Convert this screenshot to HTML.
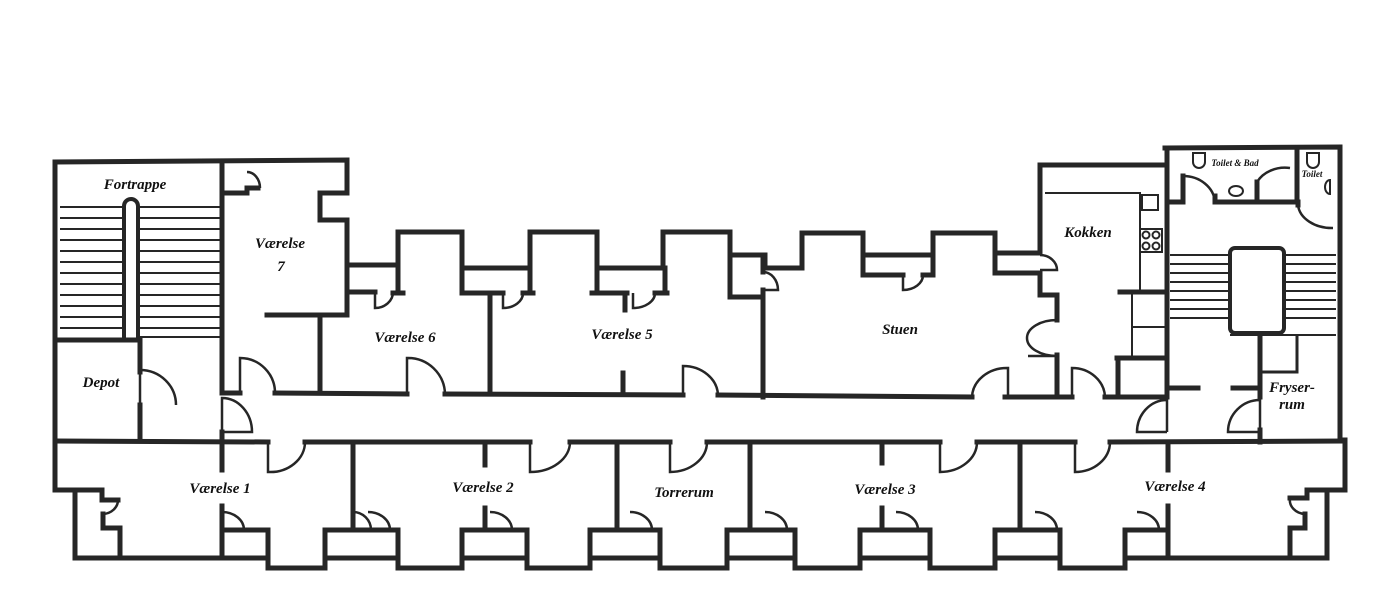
<!DOCTYPE html>
<html><head><meta charset="utf-8"><style>
html,body{margin:0;padding:0;background:#fff;width:1400px;height:600px;overflow:hidden}
svg{display:block}
text{font-family:"Liberation Serif",serif;font-style:italic;font-weight:bold;fill:#111}
</style></head><body>
<svg width="1400" height="600" viewBox="0 0 1400 600" xmlns="http://www.w3.org/2000/svg">
<g fill="none" stroke="#262626" stroke-width="5" stroke-linejoin="miter" stroke-linecap="square">
<!-- outer left/top -->
<polyline points="55,490 55,162 347,160 347,193 320,193 320,220 347,220 347,315 267,315"/>
<line x1="222" y1="163" x2="222" y2="393"/>
<line x1="55" y1="340" x2="140" y2="340"/>
<polyline points="140,340 140,372"/><polyline points="140,405 140,440"/>
<polyline points="222,193 247,193 247,188 258,188"/>
<!-- corridor top -->
<line x1="222" y1="393" x2="240" y2="393"/>
<line x1="275" y1="393" x2="407" y2="394"/>
<line x1="445" y1="394" x2="683" y2="395"/>
<line x1="718" y1="395" x2="972" y2="397"/>
<line x1="1005" y1="397" x2="1072" y2="397"/>
<line x1="1105" y1="397" x2="1167" y2="397"/>
<line x1="222" y1="432" x2="222" y2="441"/>
<line x1="320" y1="315" x2="320" y2="393"/>
<!-- upper jagged -->
<polyline points="347,265 398,265 398,232 462,232 462,268 530,268 530,232 597,232 597,268 663,268 663,232 730,232 730,255 765,255 765,268 802,268 802,233 863,233 863,255 933,255 933,233 995,233 995,253 1040,253"/>
<polyline points="347,265 347,292 375,292"/><line x1="393" y1="293" x2="403" y2="293"/>
<line x1="398" y1="265" x2="398" y2="293"/>
<line x1="462" y1="268" x2="462" y2="293"/><line x1="462" y1="293" x2="503" y2="293"/><line x1="523" y1="293" x2="533" y2="293"/>
<line x1="530" y1="268" x2="530" y2="293"/>
<line x1="490" y1="293" x2="490" y2="393"/>
<line x1="597" y1="268" x2="597" y2="293"/><line x1="592" y1="293" x2="627" y2="293"/><line x1="625" y1="293" x2="625" y2="310"/><line x1="655" y1="293" x2="667" y2="293"/>
<line x1="665" y1="268" x2="665" y2="293"/>
<line x1="623" y1="373" x2="623" y2="393"/>
<polyline points="730,255 730,297 763,297"/>
<line x1="763" y1="290" x2="763" y2="397"/>
<line x1="763" y1="255" x2="763" y2="272"/>
<polyline points="863,255 863,275 903,275"/><polyline points="923,275 933,275 933,255"/>
<polyline points="995,253 995,273 1040,273"/>
<!-- kokken -->
<polyline points="1040,253 1040,165 1165,165"/>
<polyline points="1040,273 1040,295 1057,295 1057,320"/>
<line x1="1057" y1="355" x2="1057" y2="397"/>
<polyline points="1165,148 1340,147 1340,440"/>
<line x1="1167" y1="148" x2="1167" y2="397"/>
<line x1="1120" y1="292" x2="1167" y2="292"/>
<line x1="1117" y1="358" x2="1167" y2="358"/>
<line x1="1118" y1="358" x2="1118" y2="397"/>
<!-- bath -->
<polyline points="1167,202 1183,202 1183,176"/>
<polyline points="1215,196 1215,202 1257,202 1257,182"/>
<polyline points="1257,202 1298,202 1298,205"/>
<line x1="1297" y1="148" x2="1297" y2="202"/>
<!-- frysersum -->
<line x1="1260" y1="335" x2="1260" y2="397"/>
<line x1="1260" y1="430" x2="1260" y2="442"/>
<line x1="1168" y1="388" x2="1198" y2="388"/>
<line x1="1233" y1="388" x2="1260" y2="388"/>
<!-- corridor bottom -->
<line x1="55" y1="441" x2="268" y2="442"/>
<line x1="305" y1="442" x2="530" y2="442"/>
<line x1="570" y1="442" x2="670" y2="442"/>
<line x1="707" y1="442" x2="940" y2="442"/>
<line x1="977" y1="442" x2="1075" y2="442"/>
<line x1="1110" y1="442" x2="1345" y2="441"/>
<!-- room partitions -->
<line x1="353" y1="442" x2="353" y2="530"/>
<line x1="617" y1="442" x2="617" y2="530"/>
<line x1="750" y1="442" x2="750" y2="530"/>
<line x1="1020" y1="442" x2="1020" y2="530"/>
<line x1="222" y1="442" x2="222" y2="470"/>
<line x1="485" y1="442" x2="485" y2="465"/>
<line x1="882" y1="442" x2="882" y2="463"/>
<line x1="1168" y1="442" x2="1168" y2="470"/>
<line x1="222" y1="506" x2="222" y2="558"/>
<line x1="485" y1="508" x2="485" y2="530"/>
<line x1="882" y1="508" x2="882" y2="530"/>
<line x1="1168" y1="506" x2="1168" y2="558"/>
<!-- bottom outer -->
<polyline points="55,490 102,490 102,500 118,500"/>
<polyline points="75,490 75,558 268,558 268,568 325,568 325,558 398,558 398,568 462,568 462,558 527,558 527,568 590,568 590,558 660,558 660,568 727,568 727,558 795,558 795,568 860,568 860,558 930,558 930,568 995,568 995,558 1060,558 1060,568 1125,568 1125,558 1327,558 1327,490 1345,490 1345,440"/>
<polyline points="103,514 103,528 120,528 120,558"/>
<polyline points="1327,490 1307,490 1307,498 1290,498"/>
<polyline points="1305,514 1305,528 1290,528 1290,558"/>
<!-- piers -->
<polyline points="222,530 268,530 268,568"/>
<polyline points="325,568 325,530 398,530 398,568"/>
<polyline points="462,568 462,530 527,530 527,568"/>
<polyline points="590,568 590,530 660,530 660,568"/>
<polyline points="727,568 727,530 795,530 795,568"/>
<polyline points="860,568 860,530 930,530 930,568"/>
<polyline points="995,568 995,530 1060,530 1060,568"/>
<polyline points="1125,568 1125,530 1168,530"/>
</g>
<g fill="none" stroke="#262626" stroke-width="2.5">
<!-- door arcs -->
<path d="M240,393 L240,358 A35,35 0 0 1 275,393"/>
<path d="M407,394 L407,358 A37,37 0 0 1 445,394"/>
<path d="M683,395 L683,366 A35,30 0 0 1 718,395"/>
<path d="M1008,397 L1008,368 A35,30 0 0 0 972,397"/>
<path d="M1072,397 L1072,368 A33,30 0 0 1 1105,397"/>
<path d="M140,405 L140,370 A36,35 0 0 1 176,405" transform="rotate(0)"/>
<path d="M222,432 L222,398 A30,34 0 0 1 252,432 L222,432"/>
<path d="M1167,432 L1167,400 A30,32 0 0 0 1137,432 L1167,432"/>
<path d="M1260,432 L1260,400 A32,32 0 0 0 1228,432 L1260,432"/>
<path d="M1057,320 A30,18 0 0 0 1057,356 L1028,356"/>
<path d="M1040,255 A17,15 0 0 1 1057,270 L1040,270"/>
<path d="M763,272 A15,18 0 0 1 778,290 L763,290"/>
<path d="M247,172 A13,16 0 0 1 260,188"/>
<path d="M375,292 L375,308 A18,16 0 0 0 393,292"/>
<path d="M503,293 L503,308 A20,15 0 0 0 523,293"/>
<path d="M633,293 L633,308 A22,15 0 0 0 655,293"/>
<path d="M903,275 L903,290 A20,15 0 0 0 923,275"/>
<path d="M268,442 L268,472 A35,30 0 0 0 305,442"/>
<path d="M530,442 L530,472 A40,30 0 0 0 570,442"/>
<path d="M670,442 L670,472 A37,30 0 0 0 707,442"/>
<path d="M940,442 L940,472 A37,30 0 0 0 977,442"/>
<path d="M1075,442 L1075,472 A35,30 0 0 0 1110,442"/>
<path d="M1183,176 A32,28 0 0 1 1215,202"/>
<path d="M1257,182 A32,28 0 0 1 1290,168"/>
<path d="M1298,205 A34,25 0 0 0 1333,228"/>
<path d="M118,500 A16,14 0 0 1 103,514"/>
<path d="M1290,498 A16,14 0 0 0 1305,514"/>
<path d="M222,512 A22,18 0 0 1 244,530"/>
<path d="M353,512 A18,18 0 0 1 371,530"/>
<path d="M368,512 A22,18 0 0 1 390,530"/>
<path d="M490,512 A22,18 0 0 1 512,530"/>
<path d="M630,512 A22,18 0 0 1 652,530"/>
<path d="M765,512 A22,18 0 0 1 787,530"/>
<path d="M896,512 A22,18 0 0 1 918,530"/>
<path d="M1035,512 A22,18 0 0 1 1057,530"/>
<path d="M1137,512 A22,18 0 0 1 1159,530"/>
</g>
<g fill="none" stroke="#262626" stroke-width="2">
<!-- left stairs -->
<g>
<line x1="60" y1="207" x2="124" y2="207"/><line x1="138" y1="207" x2="220" y2="207"/>
<line x1="60" y1="218" x2="124" y2="218"/><line x1="138" y1="218" x2="220" y2="218"/>
<line x1="60" y1="229" x2="124" y2="229"/><line x1="138" y1="229" x2="220" y2="229"/>
<line x1="60" y1="240" x2="124" y2="240"/><line x1="138" y1="240" x2="220" y2="240"/>
<line x1="60" y1="251" x2="124" y2="251"/><line x1="138" y1="251" x2="220" y2="251"/>
<line x1="60" y1="262" x2="124" y2="262"/><line x1="138" y1="262" x2="220" y2="262"/>
<line x1="60" y1="273" x2="124" y2="273"/><line x1="138" y1="273" x2="220" y2="273"/>
<line x1="60" y1="284" x2="124" y2="284"/><line x1="138" y1="284" x2="220" y2="284"/>
<line x1="60" y1="295" x2="124" y2="295"/><line x1="138" y1="295" x2="220" y2="295"/>
<line x1="60" y1="306" x2="124" y2="306"/><line x1="138" y1="306" x2="220" y2="306"/>
<line x1="60" y1="317" x2="124" y2="317"/><line x1="138" y1="317" x2="220" y2="317"/>
<line x1="60" y1="328" x2="124" y2="328"/><line x1="138" y1="328" x2="220" y2="328"/>
<line x1="138" y1="337" x2="220" y2="337"/>
</g>
<path d="M124,340 L124,206 A7,7 0 0 1 138,206 L138,340" stroke-width="4"/>
<!-- right stairs -->
<g>
<line x1="1170" y1="255" x2="1230" y2="255"/><line x1="1284" y1="255" x2="1336" y2="255"/>
<line x1="1170" y1="264" x2="1230" y2="264"/><line x1="1284" y1="264" x2="1336" y2="264"/>
<line x1="1170" y1="273" x2="1230" y2="273"/><line x1="1284" y1="273" x2="1336" y2="273"/>
<line x1="1170" y1="282" x2="1230" y2="282"/><line x1="1284" y1="282" x2="1336" y2="282"/>
<line x1="1170" y1="291" x2="1230" y2="291"/><line x1="1284" y1="291" x2="1336" y2="291"/>
<line x1="1170" y1="300" x2="1230" y2="300"/><line x1="1284" y1="300" x2="1336" y2="300"/>
<line x1="1170" y1="309" x2="1230" y2="309"/><line x1="1284" y1="309" x2="1336" y2="309"/>
<line x1="1170" y1="318" x2="1230" y2="318"/><line x1="1284" y1="318" x2="1336" y2="318"/>
<line x1="1230" y1="335" x2="1336" y2="335"/>
</g>
<rect x="1230" y="248" width="54" height="85" rx="5" stroke-width="4"/>
<polyline points="1260,335 1260,372 1297,372 1297,335" stroke-width="3"/>
<!-- kitchen -->
<polyline points="1045,193 1140,193 1140,290"/>
<rect x="1142" y="195" width="16" height="15"/>
<rect x="1140" y="229" width="22" height="23"/>
<circle cx="1146" cy="235" r="3.5"/><circle cx="1156" cy="235" r="3.5"/>
<circle cx="1146" cy="246" r="3.5"/><circle cx="1156" cy="246" r="3.5"/>
<line x1="1132" y1="292" x2="1132" y2="358"/>
<line x1="1132" y1="327" x2="1165" y2="327"/>
<!-- bath fixtures -->
<path d="M1193,153 L1193,162 A6,6 0 0 0 1205,162 L1205,153 Z"/>
<path d="M1307,153 L1307,162 A6,6 0 0 0 1319,162 L1319,153 Z"/>
<ellipse cx="1236" cy="191" rx="7" ry="5"/>
<path d="M1330,180 A5,7 0 1 0 1330,194 Z"/>
</g>
<g font-size="15" text-anchor="middle">
<text x="135" y="189">Fortrappe</text>
<text x="101" y="387">Depot</text>
<text x="280" y="248">Værelse</text>
<text x="281" y="271">7</text>
<text x="405" y="342">Værelse 6</text>
<text x="622" y="339">Værelse 5</text>
<text x="900" y="334">Stuen</text>
<text x="1088" y="237">Kokken</text>
<text x="1292" y="392">Fryser-</text>
<text x="1292" y="409">rum</text>
<text x="220" y="493">Værelse 1</text>
<text x="483" y="492">Værelse 2</text>
<text x="684" y="497">Torrerum</text>
<text x="885" y="494">Værelse 3</text>
<text x="1175" y="491">Værelse 4</text>
<text x="1235" y="166" font-size="9">Toilet &amp; Bad</text>
<text x="1312" y="177" font-size="9">Toilet</text>
</g>
</svg>
</body></html>
